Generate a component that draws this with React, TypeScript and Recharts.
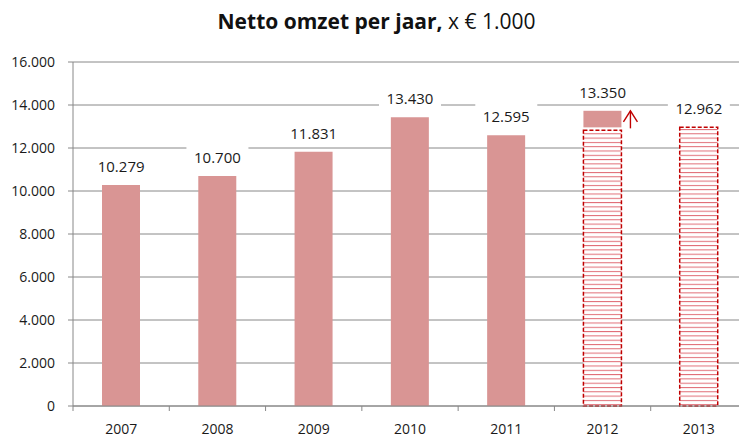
import { ComposedChart, Bar, Line, XAxis, YAxis, CartesianGrid } from 'recharts';

const years = ['2007', '2008', '2009', '2010', '2011', '2012', '2013'];
// realised turnover
const actual = [10279, 10700, 11831, 13430, 12595, null, null];
// forecast / budget (hatched)
const forecast = [null, null, null, null, null, 12820, 12962];
// 2012: small blank gap, then the realised part on top of the forecast
const gap = [null, null, null, null, null, 140, null];
const extra = [null, null, null, null, null, 770, null];
const valueLabels = ['10.279', '10.700', '11.831', '13.430', '12.595', '13.350', '12.962'];
const yTicks = [0, 2000, 4000, 6000, 8000, 10000, 12000, 14000, 16000];

const data = years.map((year, i) => ({
  year,
  actual: actual[i],
  forecast: forecast[i],
  gap: gap[i],
  extra: extra[i],
  total: (actual[i] ?? 0) + (forecast[i] ?? 0) + (gap[i] ?? 0) + (extra[i] ?? 0),
}));

const W = 747;
const H = 437;
const Y_W = 73;
const BAND = (W - Y_W) / years.length;
const FONT = '"Open Sans", sans-serif';
const BAR = '#D99594';
const GRID = '#888888';
const RED = '#C00000';

function fmt(v: number): string {
  if (v === 0) return '0';
  return `${Math.floor(v / 1000)}.${String(v % 1000).padStart(3, '0')}`;
}

function HatchShape(props: any) {
  const { x, y, width, height, index } = props;
  if (!height || height <= 0) return null;
  const id = `hatch-${index}`;
  return (
    <g>
      <defs>
        <pattern id={id} patternUnits="userSpaceOnUse" width={8} height={4.3}>
          <rect width={8} height={4.3} fill="#fff" />
          <line x1={0} y1={0.5} x2={8} y2={0.5} stroke="#E06A74" strokeWidth={1} />
        </pattern>
      </defs>
      <rect x={x} y={y} width={width} height={height} fill={`url(#${id})`} stroke={RED} strokeWidth={1.5} strokeDasharray="4 2" />
    </g>
  );
}

function GapShape() {
  return null;
}

function ExtraShape(props: any) {
  const { x, y, width, height } = props;
  if (!height || height <= 0) return null;
  const ax = x + width + 9;
  const bottom = y + height + 1;
  return (
    <g>
      <rect x={x} y={y} width={width} height={height} fill={BAR} />
      <line x1={ax} y1={bottom} x2={ax} y2={y} stroke={RED} strokeWidth={1.4} />
      <polyline points={`${ax - 7},${y + 11} ${ax},${y} ${ax + 7},${y + 11}`} fill="none" stroke={RED} strokeWidth={1.4} />
    </g>
  );
}

function ValueLabel(props: any) {
  const { x, y, index } = props;
  if (x == null || y == null) return null;
  const cy = y - 18;
  return (
    <g>
      <rect x={x - 31} y={cy - 14} width={62} height={22} fill="#fff" />
      <text x={x} y={cy + 5} textAnchor="middle" fontSize={15} fontFamily={FONT} fill="#1a1a1a">
        {valueLabels[index]}
      </text>
    </g>
  );
}

function YearTick(props: any) {
  const { x, y, payload, index } = props;
  const left = x - BAND / 2;
  return (
    <g>
      <line x1={left} y1={H - 31} x2={left} y2={H - 31 + 5} stroke={GRID} />
      {index === years.length - 1 && <line x1={x + BAND / 2} y1={H - 31} x2={x + BAND / 2} y2={H - 26} stroke={GRID} />}
      <text x={x} y={y + 20} textAnchor="middle" fontSize={14} fontFamily={FONT} fill="#1a1a1a">
        {payload.value}
      </text>
    </g>
  );
}

export default function App() {
  return (
    <div style={{ position: 'absolute', left: 0, top: 0, width: 739, height: 437, overflow: 'hidden', background: '#fff' }}>
      <div
        style={{
          position: 'absolute',
          left: 0,
          top: 8,
          width: 753,
          textAlign: 'center',
          fontFamily: FONT,
          fontSize: 21,
          lineHeight: '26px',
          color: '#111',
          whiteSpace: 'nowrap',
        }}
      >
        <span style={{ fontWeight: 700 }}>Netto omzet per jaar,</span> x € 1.000
      </div>
      <ComposedChart width={W} height={H} data={data} margin={{ top: 62, right: 0, bottom: 0, left: 0 }} barSize={38}>
        <CartesianGrid vertical={false} stroke={GRID} />
        <XAxis
          dataKey="year"
          height={31}
          axisLine={{ stroke: GRID }}
          tickLine={false}
          tick={<YearTick />}
          interval={0}
        />
        <YAxis
          width={Y_W}
          domain={[0, 16000]}
          ticks={yTicks}
          tickFormatter={fmt}
          axisLine={{ stroke: GRID }}
          tickLine={{ stroke: GRID }}
          tickSize={5}
          tickMargin={13}
          tick={{ fontSize: 14, fontFamily: FONT, fill: '#1a1a1a' }}
          interval={0}
        />
        <Bar dataKey="actual" stackId="a" fill={BAR} isAnimationActive={false} />
        <Bar dataKey="forecast" stackId="a" shape={<HatchShape />} isAnimationActive={false} />
        <Bar dataKey="gap" stackId="a" shape={<GapShape />} isAnimationActive={false} />
        <Bar dataKey="extra" stackId="a" shape={<ExtraShape />} isAnimationActive={false} />
        <Line dataKey="total" stroke="none" dot={false} activeDot={false} isAnimationActive={false} label={<ValueLabel />} />
      </ComposedChart>
    </div>
  );
}
